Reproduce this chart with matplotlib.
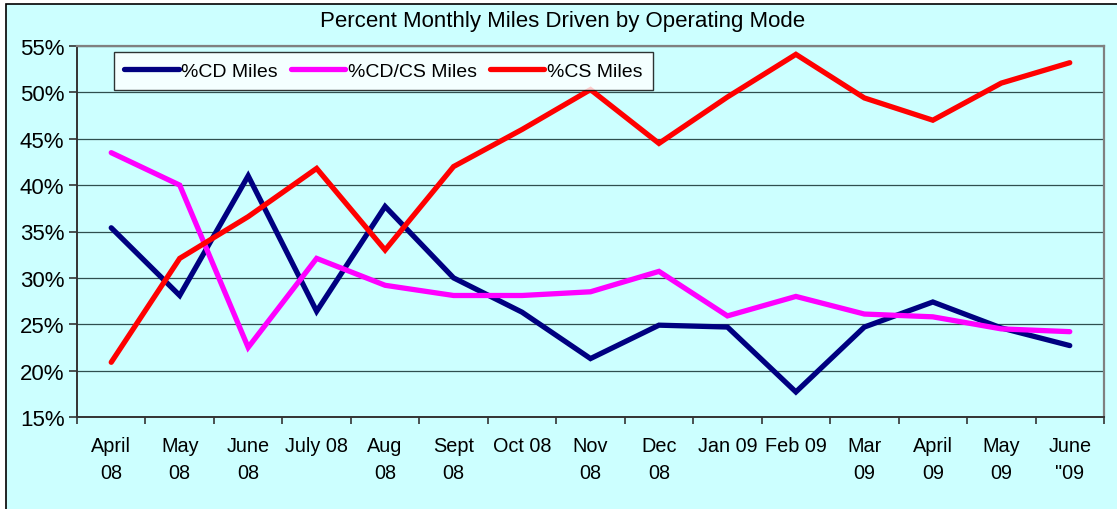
import matplotlib
matplotlib.use("Agg")
import matplotlib.pyplot as plt
from matplotlib.patches import Rectangle
from matplotlib.ticker import FixedLocator, NullFormatter, PercentFormatter

plt.rcParams['font.family'] = ['Liberation Sans', 'DejaVu Sans']

categories = ["April\n08", "May\n08", "June\n08", "July 08", "Aug\n08", "Sept\n08",
              "Oct 08", "Nov\n08", "Dec\n08", "Jan 09", "Feb 09", "Mar\n09",
              "April\n09", "May\n09", "June\n\"09"]
cd_miles = [35.4, 28.1, 41.0, 26.4, 37.7, 30.0, 26.3, 21.3, 24.9, 24.7, 17.7, 24.7, 27.4, 24.6, 22.7]
cdcs_miles = [43.5, 40.0, 22.5, 32.1, 29.2, 28.1, 28.1, 28.5, 30.7, 25.9, 28.0, 26.1, 25.8, 24.5, 24.2]
cs_miles = [20.9, 32.1, 36.6, 41.8, 33.0, 42.0, 46.0, 50.3, 44.5, 49.5, 54.1, 49.4, 47.0, 51.0, 53.2]
series_names = ["%CD Miles", "%CD/CS Miles", "%CS Miles"]
series_colors = ["#000080", "#FF00FF", "#FF0000"]
yticks = [15, 20, 25, 30, 35, 40, 45, 50, 55]

W, H = 1117, 510
fig = plt.figure(figsize=(W / 100, H / 100), dpi=100, facecolor="white")
bg = "#CCFFFF"
fig.patches.append(Rectangle((6 / W, -0.05), 1.1, 1.05 - 5 / H, transform=fig.transFigure,
                             facecolor=bg, edgecolor="black", linewidth=1.2, zorder=-10))

L, R, T, B = 77, 1104, 47, 418
ax = fig.add_axes([L / W, (H - B) / H, (R - L) / W, (B - T) / H])
ax.set_facecolor(bg)

x = list(range(len(categories)))
for vals, name, col in zip([cd_miles, cdcs_miles, cs_miles], series_names, series_colors):
    ax.plot(x, vals, color=col, linewidth=3.8, solid_capstyle="round",
            solid_joinstyle="miter", label=name, zorder=3)

ax.set_xlim(-0.5, len(categories) - 0.5)
ax.set_ylim(15, 55)
ax.yaxis.set_major_locator(FixedLocator(yticks))
ax.yaxis.set_major_formatter(PercentFormatter(decimals=0))
ax.grid(axis="y", color="#2F4F4F", linewidth=0.9, zorder=1)
ax.set_axisbelow(True)

ax.set_xticks([i - 0.5 for i in range(len(categories) + 1)])
ax.xaxis.set_major_formatter(NullFormatter())
ax.set_xticks(x, minor=True)
ax.set_xticklabels(categories, minor=True, fontsize=14.3, linespacing=1.5)
ax.tick_params(axis="x", which="major", direction="out", length=5, width=1.2, color="#333333")
ax.tick_params(axis="x", which="minor", length=0, pad=14)
ax.tick_params(axis="y", direction="out", length=6, width=1.2, color="#333333",
               labelsize=16, pad=3)

for s in ["left", "bottom"]:
    ax.spines[s].set_color("#333333")
    ax.spines[s].set_linewidth(1.4)
for s in ["top", "right"]:
    ax.spines[s].set_color("#808080")
    ax.spines[s].set_linewidth(1.6)

fig.text(563 / W, 1 - 22 / H, "Percent Monthly Miles Driven by Operating Mode",
         ha="center", va="center", fontsize=16)

leg = ax.legend(loc="upper left", bbox_to_anchor=((114 - L) / (R - L), 1 - 6 / (B - T)),
                ncol=3, frameon=True, fancybox=False, shadow=False, fontsize=14,
                handlelength=2.8, handletextpad=0.15, columnspacing=0.65,
                borderpad=0.52, borderaxespad=0)
leg.get_frame().set_edgecolor("black")
leg.get_frame().set_linewidth(1.0)
leg.get_frame().set_facecolor("white")

fig.savefig("out.png", dpi=100, facecolor=fig.get_facecolor())
